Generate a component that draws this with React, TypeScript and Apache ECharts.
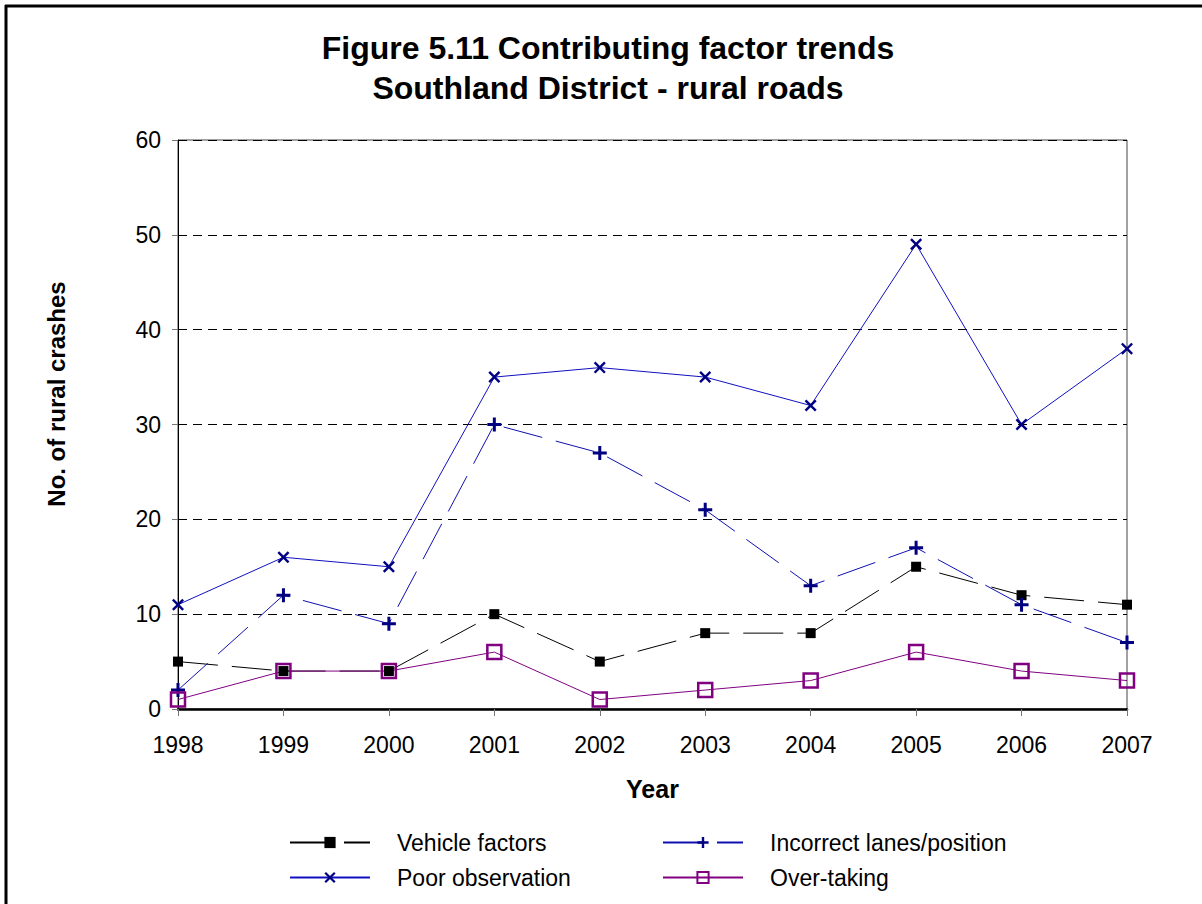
import React, { useEffect, useRef } from "react";
import * as echarts from "echarts";

const years = ["1998", "1999", "2000", "2001", "2002", "2003", "2004", "2005", "2006", "2007"];
const vehicleFactors = [5, 4, 4, 10, 5, 8, 8, 15, 12, 11];
const incorrectLanes = [2, 12, 9, 30, 27, 21, 13, 17, 11, 7];
const poorObservation = [11, 16, 15, 35, 36, 35, 32, 49, 30, 38];
const overTaking = [1, 4, 4, 6, 1, 2, 3, 6, 4, 3];
const titleLines = ["Figure 5.11 Contributing factor trends", "Southland District - rural roads"];

const FONT = "'Liberation Sans', Arial, sans-serif";
const PLUS = "path://M0,5.5H5.5V0H8.5V5.5H14V8.5H8.5V14H5.5V8.5H0Z";
const CROSS = "path://M0,2L2,0L14,12L12,14Z M12,0L14,2L2,14L0,12Z";

export default function App() {
  const ref = useRef<HTMLDivElement>(null);
  useEffect(() => {
    if (!ref.current) return;
    const chart = echarts.init(ref.current, undefined, { renderer: "svg" });
    const legendText = { fontFamily: FONT, fontSize: 23, color: "#000", padding: [0, 0, 0, 22] };
    const legendBase = {
      orient: "vertical",
      top: 826,
      height: 78,
      itemWidth: 80,
      itemHeight: 14,
      itemGap: 12,
      textStyle: legendText,
    };
    const titleGraphics = titleLines.map((t, i) => ({
      type: "text",
      x: 608,
      y: 48 + i * 40,
      style: {
        text: t,
        font: `bold 32px ${FONT}`,
        fill: "#000",
        textAlign: "center",
        textVerticalAlign: "middle",
      },
    }));
    chart.setOption({
      animation: false,
      backgroundColor: "#fff",
      grid: { left: 178, right: 75, top: 140, bottom: 195, show: true, borderColor: "#444", borderWidth: 1 },
      xAxis: {
        type: "category",
        data: years,
        boundaryGap: false,
        name: "Year",
        nameLocation: "middle",
        nameGap: 67,
        nameTextStyle: { fontFamily: FONT, fontSize: 25, fontWeight: "bold", color: "#000" },
        axisLine: { lineStyle: { color: "#000", width: 2.5 } },
        axisTick: { show: true, inside: false, length: 7, lineStyle: { color: "#777" } },
        axisLabel: { fontFamily: FONT, fontSize: 23, color: "#000", margin: 24 },
        splitLine: { show: false },
      },
      yAxis: {
        type: "value",
        min: 0,
        max: 60,
        interval: 10,
        axisLine: { show: true, lineStyle: { color: "#000", width: 1 } },
        axisTick: { show: true, inside: false, length: 6, lineStyle: { color: "#777" } },
        axisLabel: { fontFamily: FONT, fontSize: 23, color: "#000", margin: 17 },
        splitLine: { show: true, lineStyle: { color: "#000", type: [9, 6], width: 1 } },
      },
      legend: [
        { ...legendBase, data: ["Vehicle factors", "Poor observation"], left: 284 },
        { ...legendBase, data: ["Incorrect lanes/position", "Over-taking"], left: 657 },
      ],
      graphic: [
        { type: "line", shape: { x1: 6, y1: 5, x2: 6, y2: 904 }, style: { stroke: "#000", lineWidth: 3 } },
        { type: "line", shape: { x1: 5, y1: 6, x2: 1202, y2: 6 }, style: { stroke: "#000", lineWidth: 3 } },
        ...titleGraphics,
        {
          type: "text",
          x: 56,
          y: 394,
          rotation: Math.PI / 2,
          style: {
            text: "No. of rural crashes",
            font: `bold 24px ${FONT}`,
            fill: "#000",
            textAlign: "center",
            textVerticalAlign: "middle",
          },
        },
      ],
      series: [
        {
          name: "Vehicle factors",
          type: "line",
          data: vehicleFactors,
          symbol: "rect",
          symbolSize: 10,
          color: "#000",
          lineStyle: { color: "#000", width: 1, type: [40, 14] },
          itemStyle: { color: "#000" },
        },
        {
          name: "Incorrect lanes/position",
          type: "line",
          data: incorrectLanes,
          symbol: PLUS,
          symbolSize: 14,
          color: "#000080",
          lineStyle: { color: "#1010b0", width: 1, type: [40, 14] },
          itemStyle: { color: "#000080" },
        },
        {
          name: "Poor observation",
          type: "line",
          data: poorObservation,
          symbol: CROSS,
          symbolSize: 12,
          color: "#000080",
          lineStyle: { color: "#1010c0", width: 1 },
          itemStyle: { color: "#000080" },
        },
        {
          name: "Over-taking",
          type: "line",
          data: overTaking,
          symbol: "rect",
          symbolSize: 14,
          color: "#800080",
          lineStyle: { color: "#800080", width: 1 },
          itemStyle: { color: "rgba(0,0,0,0)", borderColor: "#800080", borderWidth: 2.5 },
        },
      ],
    });
    return () => chart.dispose();
  }, []);
  return (
    <div
      ref={ref}
      style={{ position: "fixed", left: 0, top: 0, width: 1202, height: 904, background: "#fff" }}
    />
  );
}
